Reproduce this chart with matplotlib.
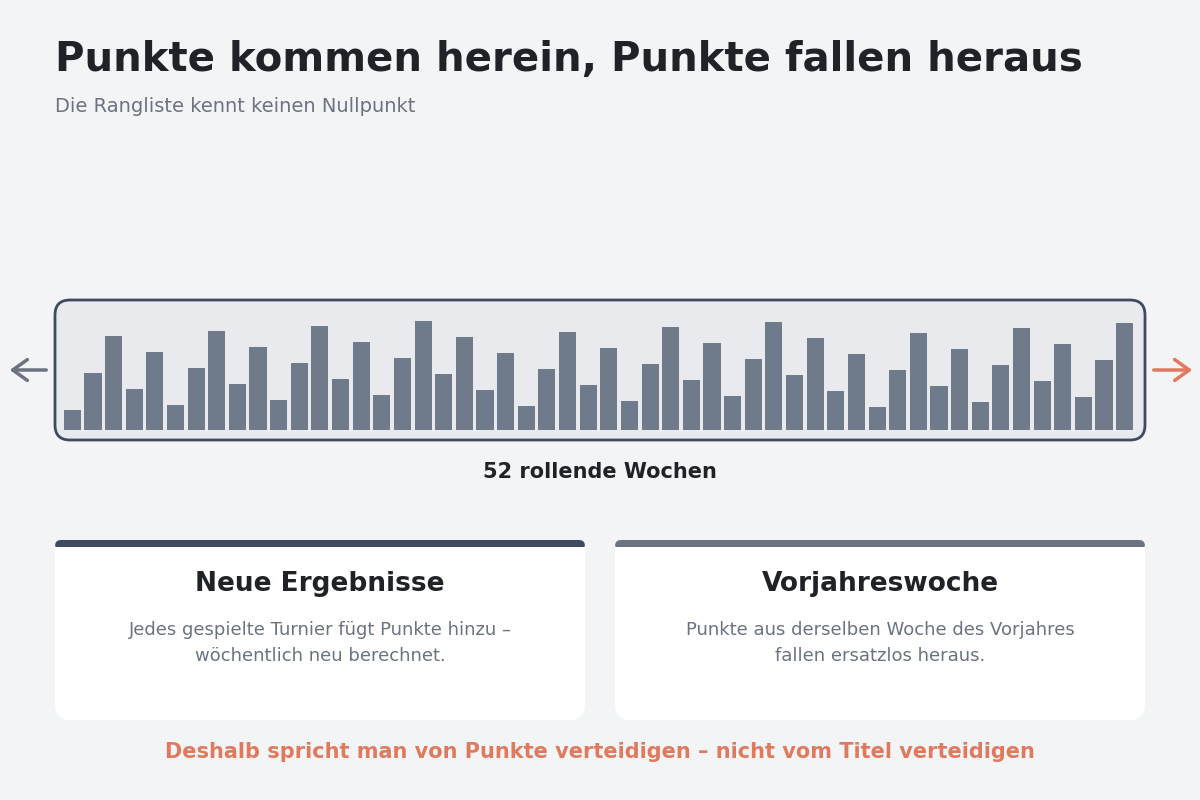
import matplotlib
matplotlib.use("Agg")
import matplotlib.pyplot as plt
from matplotlib.patches import FancyBboxPatch, FancyArrowPatch

plt.rcParams['font.family'] = ['DejaVu Sans']

weeks = list(range(1, 53))
points = [20,57,94,41,78,25,62,99,46,83,30,67,104,51,88,35,72,109,56,93,40,77,24,61,98,45,
          82,29,66,103,50,87,34,71,108,55,92,39,76,23,60,97,44,81,28,65,102,49,86,33,70,107]

title = "Punkte kommen herein, Punkte fallen heraus"
subtitle = "Die Rangliste kennt keinen Nullpunkt"
window_label = "52 rollende Wochen"
card_titles = ["Neue Ergebnisse", "Vorjahreswoche"]
card_texts = ["Jedes gespielte Turnier fügt Punkte hinzu –\nwöchentlich neu berechnet.",
              "Punkte aus derselben Woche des Vorjahres\nfallen ersatzlos heraus."]
footer = "Deshalb spricht man von Punkte verteidigen – nicht vom Titel verteidigen"

W, H = 1200, 800
BG = "#f3f4f6"
fig = plt.figure(figsize=(12, 8), dpi=100, facecolor=BG)

def fx(x): return x / W
def fy(y): return 1 - y / H

def rbox(x0, y0, x1, y1, fc, ec="none", lw=0, r=8, z=-1):
    p = FancyBboxPatch((fx(x0), fy(y1)), fx(x1 - x0), (y1 - y0) / H,
                       boxstyle=f"round,pad=0,rounding_size={r / H}",
                       transform=fig.transFigure, fc=fc, ec=ec, lw=lw,
                       mutation_aspect=1.5, zorder=z)
    fig.add_artist(p)

fig.text(fx(55), fy(60), title, fontsize=29, fontweight="bold", color="#1f2328", va="center")
fig.text(fx(55), fy(107), subtitle, fontsize=14, color="#6b7280", va="center")

rbox(55, 300, 1145, 440, "#e8eaee", "#3f4a5f", 2, r=10, z=-2)

ax = fig.add_axes([fx(62), fy(430), fx(1135 - 62), (430 - 310) / H], zorder=5)
ax.patch.set_alpha(0)
ax.bar(range(len(weeks)), points, width=0.83, color="#6f7a8a")
ax.set_xlim(-0.5, 51.5)
ax.set_ylim(0, 120)
ax.axis("off")

fig.add_artist(FancyArrowPatch((fx(49), fy(370)), (fx(7), fy(370)), transform=fig.transFigure,
                               arrowstyle="->,head_length=7,head_width=5", color="#6b7280", lw=2.5,
                               mutation_scale=1.5))
fig.add_artist(FancyArrowPatch((fx(1151), fy(370)), (fx(1195), fy(370)), transform=fig.transFigure,
                               arrowstyle="->,head_length=7,head_width=5", color="#e07a5f", lw=2.5,
                               mutation_scale=1.5))

fig.text(0.5, fy(472), window_label, fontsize=15, fontweight="bold", color="#1f2328",
         ha="center", va="center")

for (x0, x1), col, t, b in zip([(55, 585), (615, 1145)], ["#3f4a5f", "#6b7280"], card_titles, card_texts):
    rbox(x0, 540, x1, 720, "white", r=10, z=-2)
    rbox(x0, 540, x1, 550, col, r=4, z=-1)
    fig.add_artist(plt.Rectangle((fx(x0), fy(551)), fx(x1 - x0), 4 / H, transform=fig.transFigure,
                                 fc="white", ec="none", zorder=0))
    cx = fx((x0 + x1) / 2)
    fig.text(cx, fy(584), t, fontsize=19, fontweight="bold", color="#1f2328", ha="center", va="center")
    fig.text(cx, fy(643), b, fontsize=13, color="#6b7280", ha="center", va="center", linespacing=1.6)

fig.text(0.5, fy(752), footer, fontsize=15, fontweight="bold", color="#e07a5f", ha="center", va="center")

fig.savefig("out.png", dpi=100, facecolor=BG)
